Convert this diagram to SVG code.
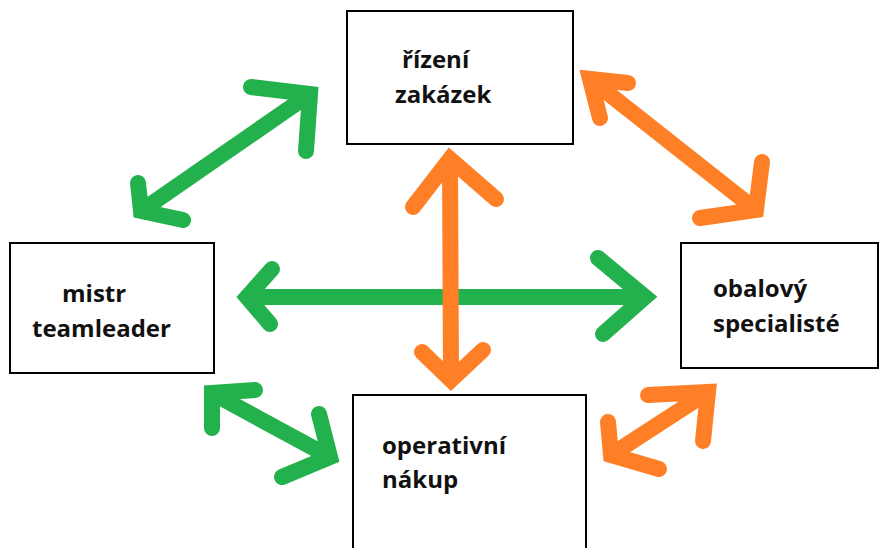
<svg xmlns="http://www.w3.org/2000/svg" width="880" height="548" viewBox="0 0 880 548">
<style>
.box{fill:#fff;stroke:#000;stroke-width:2}
.lbl{font-family:"Open Sans","Liberation Sans",sans-serif;font-weight:bold;font-size:24px;fill:#111}
.g{fill:none;stroke:#22b14c;stroke-width:16;stroke-linecap:round;stroke-linejoin:miter}
.o{fill:none;stroke:#ff7f27;stroke-width:16;stroke-linecap:round;stroke-linejoin:miter}
</style>
<rect width="880" height="548" fill="#fff"/>
<g id="rizeni">
<rect class="box" x="347" y="11" width="226" height="133"/>
<text class="lbl" x="402" y="68">řízení</text>
<text class="lbl" x="395" y="103">zakázek</text>
</g>
<g id="mistr">
<rect class="box" x="10" y="243" width="204" height="130"/>
<text class="lbl" x="62" y="302">mistr</text>
<text class="lbl" x="32" y="337">teamleader</text>
</g>
<g id="obalovy">
<rect class="box" x="681" y="243" width="197" height="125"/>
<text class="lbl" x="713" y="297">obalový</text>
<text class="lbl" x="713" y="332">specialisté</text>
</g>
<g id="nakup">
<rect class="box" x="353" y="395" width="233" height="160"/>
<text class="lbl" x="382" y="454">operativní</text>
<text class="lbl" x="382" y="488">nákup</text>
</g>
<g id="connectors">
<path class="g" d="M247,297 L645,297 M272,269 L247,297 L270,324 M598,258 L645,297 L603,334"/>
<path class="g" d="M141,211 L310,94 M251,87 L310,94 L306,151 M138,183 L141,211 L183,220"/>
<path class="g" d="M212,393 L330,457 M255,390 L212,393 L212,428 M319,414 L330,457 L282,477"/>
<path class="o" d="M590,79 L756,210 M628,83 L590,79 L600,118 M762,162 L756,210 L700,218"/>
<path class="o" d="M611,455 L708,392 M648,395 L708,392 L703,441 M608,422 L611,455 L659,469"/>
<path class="o" d="M450,159 L451,380 M413,207 L450,159 L496,199 M422,352 L451,380 L483,350"/>
</g>
</svg>
